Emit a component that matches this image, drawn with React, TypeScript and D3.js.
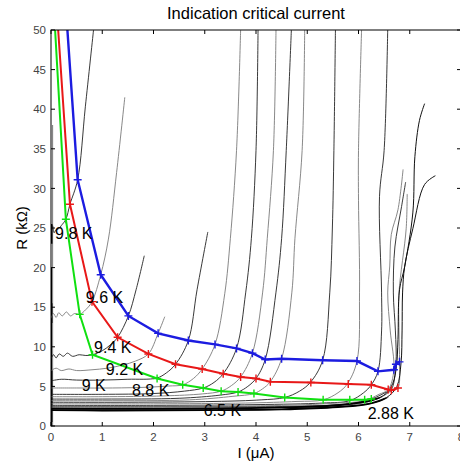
import React from "react";
import * as d3 from "d3";

type P = [number, number];

const X_TICKS = [0, 1, 2, 3, 4, 5, 6, 7, 8];
const Y_TICKS = [0, 5, 10, 15, 20, 25, 30, 35, 40, 45, 50];

// Thin R(I) curves, one per temperature: [I (uA), R (kOhm)]
const C98: P[] = [[0, 24.2], [0.03, 25.3], [0.06, 24.4], [0.1, 24.8], [0.15, 24.9], [0.2, 25.3], [0.29, 26.1], [0.37, 28.0], [0.52, 31.1], [0.67, 40.3], [0.83, 50]];
const C96: P[] = [[0, 13.6], [0.05, 14.2], [0.1, 13.7], [0.15, 14.3], [0.22, 13.9], [0.3, 14.4], [0.38, 13.9], [0.46, 14.2], [0.56, 14.1], [0.68, 14.7], [0.8, 15.7], [0.97, 19.1], [1.12, 23.6], [1.28, 32], [1.44, 41.5]];
const C94: P[] = [[0, 8.5], [0.05, 9.0], [0.1, 8.6], [0.16, 9.1], [0.24, 8.8], [0.32, 9.2], [0.42, 8.8], [0.55, 9.0], [0.68, 8.9], [0.81, 9.0], [1.0, 9.5], [1.15, 10.2], [1.3, 11.2], [1.51, 13.9], [1.66, 17.2], [1.82, 21.5]];
const C92: P[] = [[0, 7.0], [0.1, 7.3], [0.2, 7.0], [0.35, 7.2], [0.5, 7.0], [0.8, 7.1], [1.1, 7.3], [1.4, 7.7], [1.65, 8.2], [1.9, 9.1], [2.09, 11.7], [2.22, 13.8]];
const C90: P[] = [[0, 5.7], [0.2, 5.9], [0.5, 5.8], [1.0, 5.8], [1.5, 5.9], [2.06, 6.05], [2.25, 6.7], [2.43, 7.8], [2.68, 10.8], [2.85, 17.2], [3.06, 24.5]];
const C88: P[] = [[0, 4.8], [0.5, 4.8], [1.2, 4.8], [1.9, 4.9], [2.3, 5.05], [2.57, 5.2], [2.78, 6.0], [2.95, 7.2], [3.2, 10.3], [3.39, 16.7], [3.5, 23.7], [3.62, 34.8], [3.7, 50]];
const C86: P[] = [[0, 4.0], [1, 4.0], [2, 4.1], [2.6, 4.4], [2.97, 4.8], [3.18, 5.5], [3.36, 6.6], [3.62, 9.8], [3.8, 16.9], [3.91, 23.7], [4.0, 34.8], [4.04, 50]];
const C84: P[] = [[0, 3.7], [1, 3.7], [2.2, 3.8], [2.95, 4.05], [3.32, 4.4], [3.52, 5.1], [3.7, 6.2], [3.93, 9.2], [4.13, 16.9], [4.22, 23.7], [4.34, 34.8], [4.39, 50]];
const C82: P[] = [[0, 3.4], [1, 3.4], [2.5, 3.5], [3.3, 3.9], [3.65, 4.3], [3.84, 5.0], [4.0, 6.0], [4.18, 8.4], [4.39, 16.9], [4.5, 23.7], [4.59, 34.8], [4.69, 50]];
const C80: P[] = [[0, 3.2], [1, 3.2], [2.7, 3.3], [3.55, 3.75], [3.96, 4.1], [4.13, 4.7], [4.28, 5.6], [4.5, 8.5], [4.7, 16.9], [4.76, 23.7], [4.9, 34.8], [4.95, 50]];
const C78: P[] = [[0, 3.0], [1.5, 3.0], [3.2, 3.1], [4.1, 3.3], [4.56, 3.6], [4.85, 4.4], [5.06, 5.5], [5.3, 8.3], [5.44, 16.9], [5.49, 25], [5.52, 34.8], [5.55, 50]];
const C76: P[] = [[0, 2.8], [2, 2.8], [3.8, 2.9], [4.8, 3.1], [5.31, 3.3], [5.6, 4.2], [5.78, 5.3], [5.97, 8.2], [6.02, 16.9], [6.0, 28.5], [6.0, 34.8], [6.06, 50]];
const C74: P[] = [[0, 2.6], [2, 2.6], [4, 2.7], [5.3, 2.9], [5.83, 3.2], [6.1, 4.2], [6.25, 5.2], [6.38, 6.9], [6.45, 12], [6.45, 16.9], [6.41, 29.0], [6.5, 34.8], [6.57, 50]];
const C72: P[] = [[0, 2.5], [2, 2.5], [4.5, 2.6], [5.6, 2.9], [6.12, 3.2], [6.4, 4.0], [6.58, 4.6], [6.69, 7.1], [6.62, 12], [6.57, 16.8], [6.61, 20.2], [6.64, 24.2], [6.77, 27.3], [6.87, 32.4]];
const C70: P[] = [[0, 2.4], [2, 2.4], [4.8, 2.5], [5.8, 2.8], [6.25, 3.4], [6.52, 4.2], [6.64, 4.6], [6.73, 7.8], [6.72, 12], [6.68, 16.8], [6.71, 22.6], [6.84, 27.7], [6.92, 30.8]];
const C68: P[] = [[0, 2.35], [2, 2.35], [5, 2.45], [6, 2.8], [6.4, 3.5], [6.66, 4.5], [6.77, 4.8], [6.8, 8.1], [6.79, 12], [6.79, 16.8], [6.93, 24.9], [6.95, 29.3]];
const C65: P[] = [[0, 2.2], [1, 2.15], [3, 2.2], [4.5, 2.35], [5.63, 2.65], [6.28, 3.3], [6.54, 4.1], [6.67, 5.4], [6.74, 7.5], [6.77, 10.9], [6.8, 17.2], [6.9, 20.1], [7.06, 26.9], [7.1, 34], [7.19, 38.6], [7.29, 40.7]];
const C288: P[] = [[0, 2.0], [1, 1.95], [3, 2.0], [4.5, 2.1], [5.6, 2.4], [6.2, 2.8], [6.55, 3.6], [6.75, 5], [6.83, 8], [6.85, 12], [6.86, 16.8], [6.9, 20.1], [7.06, 24.9], [7.29, 30.5], [7.5, 31.6]];

const THIN_CURVES: P[][] = [C98, C96, C94, C92, C90, C88, C86, C84, C82, C80, C78, C76, C74, C72, C70, C68];
const LOW_T_CURVES: P[][] = [C65, C288];

// Vertical traces hugging the R axis (high-temperature sweeps)
const AXIS_GRAY: P[] = [[0.03, 0], [0.03, 38]];
const AXIS_BLACK: P[][] = [[[0.01, 0], [0.01, 20]], [[0.005, 0.5], [0.005, 7]], [[0.005, 13], [0.005, 15.5]], [[0.005, 23], [0.005, 25.5]]];

// Critical-current criteria lines (first point = top end, no marker)
const BLUE_I = [0.32, 0.52, 0.97, 1.51, 2.09, 2.68, 3.2, 3.62, 3.93, 4.18, 4.5, 5.3, 5.97, 6.38, 6.69, 6.73, 6.8];
const BLUE_R = [50, 31.1, 19.1, 13.9, 11.7, 10.8, 10.3, 9.8, 9.2, 8.4, 8.5, 8.3, 8.2, 6.9, 7.1, 7.8, 8.1];
const RED_I = [0.14, 0.37, 0.8, 1.3, 1.9, 2.43, 2.95, 3.36, 3.7, 4.0, 4.28, 5.07, 5.8, 6.25, 6.58, 6.64, 6.77];
const RED_R = [50, 28.0, 15.7, 11.2, 9.1, 7.8, 7.2, 6.6, 6.2, 6.0, 5.6, 5.5, 5.3, 5.2, 4.6, 4.5, 4.8];
const GREEN_I = [0.08, 0.29, 0.56, 0.81, 2.07, 2.57, 2.97, 3.32, 3.65, 3.96, 4.56, 5.31, 5.83, 6.12, 6.25];
const GREEN_R = [50, 26.1, 14.1, 9.0, 6.0, 5.2, 4.8, 4.4, 4.3, 4.1, 3.6, 3.3, 3.3, 3.3, 3.4];

const LABEL_TEXT = ["9.8 K", "9.6 K", "9.4 K", "9.2 K", "9 K", "8.8 K", "6.5 K", "2.88 K"];
const LABEL_I = [0.08, 0.68, 0.84, 1.07, 0.6, 1.58, 2.98, 6.18];
const LABEL_R = [24.4, 16.3, 10.0, 7.2, 5.2, 4.5, 2.0, 1.6];

const W = 460, H = 464;
const L = 51, R = 461, T = 30, B = 426;

export default function App() {
  const x = d3.scaleLinear().domain([0, 8]).range([L, R]);
  const y = d3.scaleLinear().domain([0, 50]).range([B, T]);
  const smooth = d3.line<P>().x(d => x(d[0])).y(d => y(d[1])).curve(d3.curveCatmullRom.alpha(0.5));
  const straight = d3.line<P>().x(d => x(d[0])).y(d => y(d[1]));
  const zip = (a: number[], b: number[]): P[] => a.map((v, i) => [v, b[i]] as P);
  const series = [
    { pts: zip(GREEN_I, GREEN_R), color: "#10e010", w: 2 },
    { pts: zip(RED_I, RED_R), color: "#e81818", w: 2 },
    { pts: zip(BLUE_I, BLUE_R), color: "#1c1ce0", w: 2.4 },
  ];
  const font = "'Liberation Sans', Arial, sans-serif";
  return (
    <svg width={W} height={H} style={{ position: "absolute", left: 0, top: 0, background: "#fff" }} fontFamily={font}>
      <defs>
        <clipPath id="plot">
          <rect x={L} y={T} width={R - L} height={B - T} />
        </clipPath>
        <clipPath id="lowband">
          <rect x={L} y={y(3.6)} width={x(6.75) - L} height={B - y(3.6)} />
        </clipPath>
      </defs>
      <rect x={0} y={0} width={W} height={H} fill="#fff" />
      <text x={256} y={19} textAnchor="middle" fontSize={16.5} fill="#000">Indication critical current</text>
      <g clipPath="url(#plot)">
        <path d={straight(AXIS_GRAY) || ""} stroke="#888" strokeWidth={1.2} fill="none" />
        {AXIS_BLACK.map((s, i) => (
          <path key={"ab" + i} d={straight(s) || ""} stroke="#000" strokeWidth={i === 0 ? 1 : 2.4} fill="none" />
        ))}
        {THIN_CURVES.map((c, i) => (
          <path key={"c" + i} d={smooth(c) || ""} stroke={i % 2 === 0 ? "#222" : "#7a7a7a"} strokeWidth={0.9} fill="none" />
        ))}
        {LOW_T_CURVES.map((c, i) => (
          <path key={"lt" + i} d={smooth(c) || ""} stroke="#111" strokeWidth={1} fill="none" />
        ))}
        <g clipPath="url(#lowband)">
          {LOW_T_CURVES.map((c, i) => (
            <path key={"ltb" + i} d={smooth(c) || ""} stroke="#000" strokeWidth={1.8} fill="none" />
          ))}
        </g>
        {series.map((s, si) => (
          <g key={"s" + si}>
            <path d={straight(s.pts) || ""} stroke={s.color} strokeWidth={s.w} fill="none" />
            {s.pts.slice(1).map((p, i) => (
              <path key={i} d={`M${x(p[0]) - 4},${y(p[1])}h8M${x(p[0])},${y(p[1]) - 4}v8`} stroke={s.color} strokeWidth={1.4} />
            ))}
          </g>
        ))}
      </g>
      {LABEL_TEXT.map((t, i) => (
        <text key={t} x={x(LABEL_I[i])} y={y(LABEL_R[i])} dy="0.36em" fontSize={16} fill="#000">{t}</text>
      ))}
      <rect x={L} y={T} width={R - L} height={B - T} fill="none" stroke="#000" strokeWidth={1} />
      {X_TICKS.map(t => (
        <g key={"xt" + t}>
          <line x1={x(t)} x2={x(t)} y1={B} y2={B - 4} stroke="#000" />
          <line x1={x(t)} x2={x(t)} y1={T} y2={T + 4} stroke="#000" />
          <text x={x(t)} y={B + 15} textAnchor="middle" fontSize={11.5} fill="#444">{t}</text>
        </g>
      ))}
      {Y_TICKS.map(t => (
        <g key={"yt" + t}>
          <line x1={L} x2={L + 4} y1={y(t)} y2={y(t)} stroke="#000" />
          <line x1={R} x2={R - 4} y1={y(t)} y2={y(t)} stroke="#000" />
          <text x={L - 5} y={y(t)} dy="0.36em" textAnchor="end" fontSize={11.5} fill="#444">{t}</text>
        </g>
      ))}
      <text x={256} y={458} textAnchor="middle" fontSize={15} fill="#000">I (μA)</text>
      <text transform={`translate(27,228) rotate(-90)`} textAnchor="middle" fontSize={15} fill="#000">R (kΩ)</text>
    </svg>
  );
}
